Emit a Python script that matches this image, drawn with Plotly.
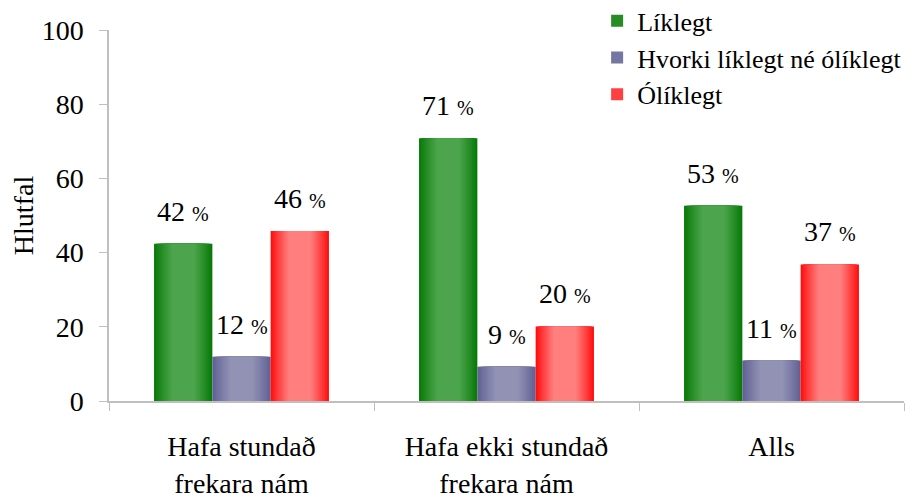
import plotly.graph_objects as go

categories = ["Hafa stundað<br>frekara nám", "Hafa ekki stundað<br>frekara nám", "Alls"]
series_names = ["Líklegt", "Hvorki líklegt né ólíklegt", "Ólíklegt"]
liklegt = [42.4, 70.8, 52.6]
hvorki = [11.9, 9.2, 10.9]
oliklegt = [45.8, 20.1, 36.8]
y_ticks = [0, 20, 40, 60, 80, 100]

series = [liklegt, hvorki, oliklegt]
edge_colors = [(8, 122, 8), (96, 97, 148), (255, 15, 15)]
mid_colors = [(76, 165, 76), (146, 146, 181), (255, 126, 126)]
BAR_W = 0.22
offsets = [-0.33, -0.11, 0.11]
FONT = "Liberation Serif"

fig = go.Figure()
N = 11
for s, (vals, name) in enumerate(zip(series, series_names)):
    for j in range(N):
        u = 0.03 * j
        t = (u / 0.3) ** 0.9
        c = tuple(round(e + (m - e) * t) for e, m in zip(edge_colors[s], mid_colors[s]))
        w = BAR_W * (1 - 2 * u)
        fig.add_trace(go.Bar(
            x=categories, y=vals, name=name,
            width=[w] * len(vals), offset=offsets[s] + BAR_W * u,
            marker=dict(color="rgb(%d,%d,%d)" % c, line=dict(width=0)),
            showlegend=(j == 4), legendgroup=name, hoverinfo="skip",
        ))

annotations = []
for s, vals in enumerate(series):
    for i, v in enumerate(vals):
        annotations.append(dict(
            x=i + offsets[s] + BAR_W / 2, y=v, xref="x", yref="y",
            text="%d <span style='font-size:20px'>%%</span>" % round(v),
            showarrow=False, yanchor="bottom", yshift=15,
            font=dict(size=28, family=FONT, color="black"),
        ))

# the page body has an 8px margin, so the figure is sized/offset to compensate
fig.update_layout(
    width=915, height=496,
    margin=dict(l=101, r=19, t=22, b=103, autoexpand=False),
    paper_bgcolor="white", plot_bgcolor="white",
    font=dict(family=FONT, color="black", size=27),
    barmode="overlay",
    showlegend=True,
    legend=dict(x=0.614, y=1.088, xanchor="left", yanchor="top",
                font=dict(size=26, family=FONT, color="black"), bgcolor="rgba(0,0,0,0)",
                tracegroupgap=0),
    annotations=annotations,
    xaxis=dict(range=[-0.5, 2.5], showline=True, linecolor="#BFBFBF", linewidth=1.5,
               ticks="outside", tickson="boundaries", ticklen=8, tickcolor="#BFBFBF",
               tickfont=dict(size=28, family=FONT, color="black"), showgrid=False,
               zeroline=False, automargin=False, ticklabelstandoff=20),
    yaxis=dict(range=[0, 100], tickvals=y_ticks, showline=True, linecolor="#BFBFBF", linewidth=1.5,
               ticks="outside", ticklen=8, tickcolor="#BFBFBF",
               tickfont=dict(size=28, family=FONT, color="black"),
               showgrid=False, zeroline=False, ticklabelstandoff=10, automargin=False,
               title=dict(text="Hlutfal", font=dict(size=28, family=FONT, color="black"),
                          standoff=4)),
)

fig.write_html("out.html")
